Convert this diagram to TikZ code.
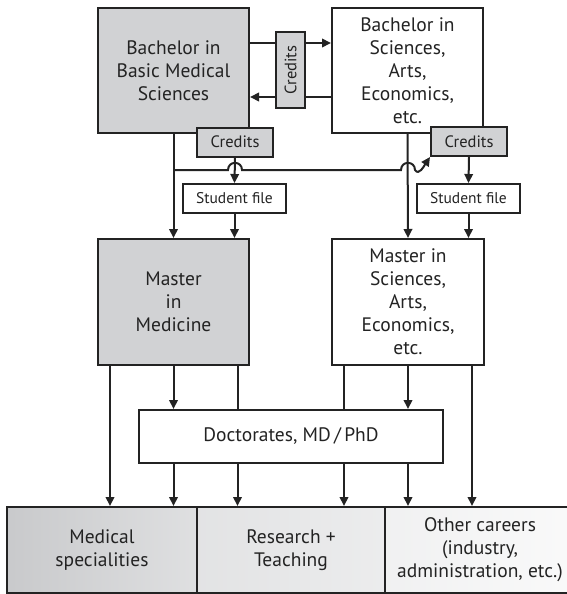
\documentclass[tikz,border=0pt]{standalone}
\usepackage{fontspec}
\setmainfont{PT Sans}
\usetikzlibrary{arrows.meta,backgrounds}

\definecolor{boxgray}{RGB}{209,210,212}
\definecolor{linegray}{RGB}{35,35,35}
\definecolor{textgray}{RGB}{35,35,35}

\tikzset{
	box/.style={draw=linegray, line width=2pt, align=center, text=textgray, inner sep=0pt, font=\fontsize{19.5}{23}\selectfont},
	greybox/.style={box, fill=boxgray},
	whitebox/.style={box, fill=white},
	tag/.style={box, font=\fontsize{16.5}{18}\selectfont, minimum width=76pt, minimum height=29pt},
	flow/.style={draw=linegray, line width=2pt, -{Triangle[length=9pt,width=8.5pt]}},
	plain/.style={draw=linegray, line width=2pt},
}

\begin{document}
\begin{tikzpicture}[x=1pt,y=-1pt]
	\useasboundingbox (0,0) rectangle (567,594);

	% bachelor level
	\node[greybox, minimum width=151pt, minimum height=125pt] (bms) at (173.5,70.5) {Bachelor in\\Basic Medical\\Sciences};
	\node[whitebox, minimum width=151pt, minimum height=125pt] (bsc) at (407.5,70.5) {Bachelor in\\Sciences,\\Arts,\\Economics,\\etc.};
	\node[tag, fill=boxgray, rotate=90] (credtop) at (290.5,70) {Credits};
	\node[tag, fill=boxgray] (credL) at (235,142) {Credits};
	\node[tag, fill=boxgray] (credR) at (469,141.5) {Credits};
	\node[tag, fill=white, minimum width=103pt, font=\fontsize{15.5}{18}\selectfont] (fileL) at (234.5,198.5) {Student file};
	\node[tag, fill=white, minimum width=103pt, font=\fontsize{15.5}{18}\selectfont] (fileR) at (468.5,198.5) {Student file};

	% master level
	\node[greybox, minimum width=151pt, minimum height=126pt] (mmed) at (173.5,302) {Master\\in\\Medicine};
	\node[whitebox, minimum width=152pt, minimum height=126pt] (msci) at (408,302) {Master in\\Sciences,\\Arts,\\Economics,\\etc.};
	\node[whitebox, minimum width=304pt, minimum height=53pt] (doct) at (291,436.5) {Doctorates, MD\,/\,PhD};

	% careers
	\node[box, left color=boxgray!96!black, right color=boxgray!70!white, minimum width=190pt, minimum height=86pt] (med) at (102,550) {Medical\\specialities};
	\node[box, left color=boxgray!62!white, right color=boxgray!42!white, minimum width=188pt, minimum height=86pt] (res) at (291,550) {Research +\\Teaching};
	\node[box, left color=boxgray!32!white, right color=boxgray!12!white, minimum width=190pt, minimum height=86pt] (oth) at (480,550) {Other careers\\(industry,\\administration, etc.)};

	\coordinate (fork) at (173.5,170);

	\begin{scope}[on background layer]
		\draw[flow] ([yshift=27.5pt]bms.east) -- ([yshift=27.5pt]bsc.west);
		\draw[flow] ([yshift=-26.5pt]bsc.west) -- ([yshift=-26.5pt]bms.east);

		\draw[flow] (bms.south) -- (mmed.north);
		\draw[flow] (credL.south) -- (fileL.north);
		\draw[flow] (fileL.south) -- (fileL.south |- mmed.north);
		\draw[flow] (bsc.south) -- (msci.north);
		\draw[flow] (credR.south) -- (fileR.north);
		\draw[flow] (fileR.south) -- (fileR.south |- msci.north);

		% credits transfer with hops
		\draw[flow] (fork) -- (228,170) .. controls (228,160.5) and (242,160.5) .. (242,170)
			-- (401,170) .. controls (401,160.5) and (415,160.5) .. (415,170)
			.. controls (419,176) and (424,166) .. (credR.south west);

		\draw[flow] ([xshift=-63.5pt]mmed.south) -- ([xshift=-63.5pt]mmed.south |- med.north);
		\draw[flow] (mmed.south) -- (mmed.south |- doct.north);
		\draw[plain] ([xshift=64pt]mmed.south) -- ([xshift=64pt]mmed.south |- doct.north);
		\draw[plain] ([xshift=-64pt]msci.south) -- ([xshift=-64pt]msci.south |- doct.north);
		\draw[flow] (msci.south) -- (msci.south |- doct.north);
		\draw[flow] ([xshift=64pt]msci.south) -- ([xshift=64pt]msci.south |- oth.north);

		\draw[flow] (mmed.south |- doct.south) -- (mmed.south |- med.north);
		\draw[flow] ([xshift=64pt]mmed.south |- doct.south) -- ([xshift=64pt]mmed.south |- res.north);
		\draw[flow] ([xshift=-64pt]msci.south |- doct.south) -- ([xshift=-64pt]msci.south |- res.north);
		\draw[flow] (msci.south |- doct.south) -- (msci.south |- oth.north);
	\end{scope}
\end{tikzpicture}
\end{document}
